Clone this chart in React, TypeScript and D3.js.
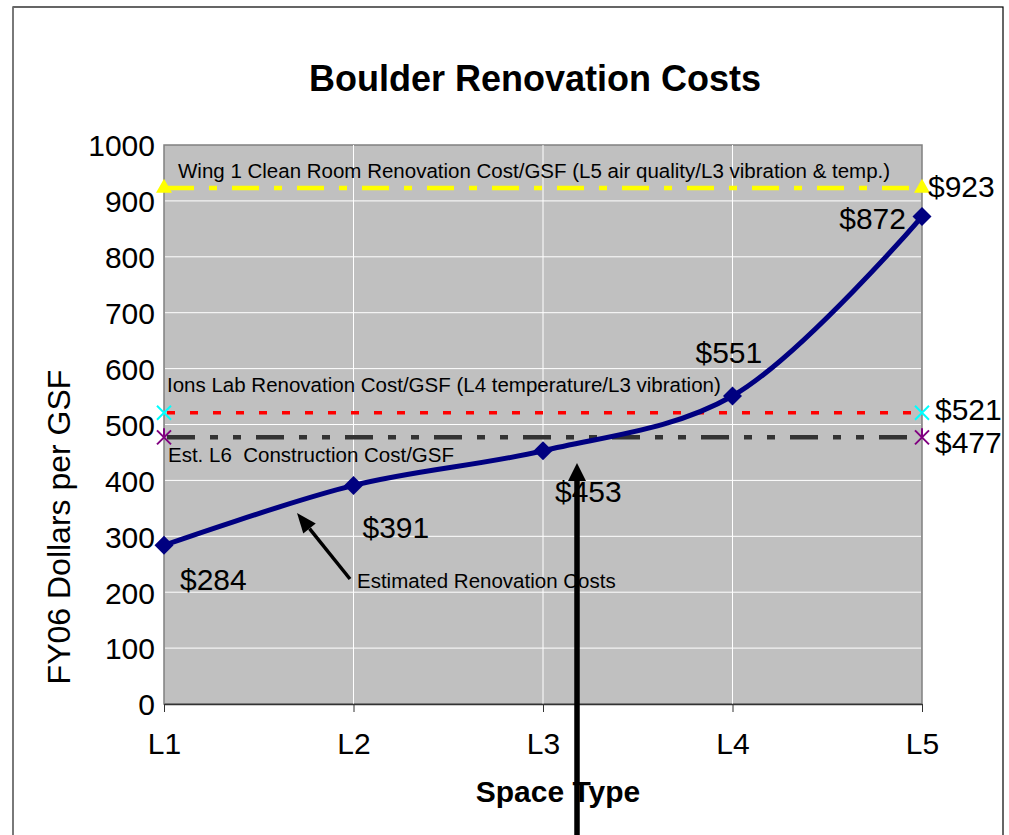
import React, { useEffect, useRef } from 'react'
import * as d3 from 'd3'

const categories = ['L1', 'L2', 'L3', 'L4', 'L5']
const renovationCosts = [284, 391, 453, 551, 872]
const cleanRoomCost = 923
const ionsLabCost = 521
const l6ConstructionCost = 477
const yTicks = [0, 100, 200, 300, 400, 500, 600, 700, 800, 900, 1000]

const W = 1009
const H = 835
const margin = { top: 145, right: 87, bottom: 131, left: 164 }
const font = 'Arial, "Liberation Sans", sans-serif'

export default function App() {
  const ref = useRef<SVGSVGElement>(null)

  useEffect(() => {
    const svg = d3.select(ref.current)
    svg.selectAll('*').remove()

    const x = d3.scalePoint().domain(categories).range([margin.left, W - margin.right])
    const y = d3.scaleLinear().domain([0, 1000]).range([H - margin.bottom, margin.top])
    const x0 = margin.left
    const x1 = W - margin.right

    // outer frame
    svg.append('rect').attr('x', 13).attr('y', 7).attr('width', 990).attr('height', 840)
      .attr('fill', 'white').attr('stroke', 'black').attr('stroke-width', 1.2)
    svg.append('line').attr('x1', 13).attr('x2', 13).attr('y1', 7).attr('y2', H)
      .attr('stroke', '#808080').attr('stroke-width', 1.5)

    // plot background
    svg.append('rect').attr('x', x0).attr('y', y(1000)).attr('width', x1 - x0).attr('height', y(0) - y(1000))
      .attr('fill', '#c0c0c0').attr('stroke', '#808080').attr('stroke-width', 1.5)

    // gridlines
    svg.append('g').selectAll('line').data(yTicks.slice(1, -1)).join('line')
      .attr('x1', x0 + 1).attr('x2', x1 - 1).attr('y1', d => y(d)).attr('y2', d => y(d))
      .attr('stroke', 'white').attr('stroke-width', 1)
    svg.append('g').selectAll('line').data(categories.slice(1, -1)).join('line')
      .attr('x1', d => x(d)!).attr('x2', d => x(d)!).attr('y1', y(1000)).attr('y2', y(0))
      .attr('stroke', 'white').attr('stroke-width', 1)

    // x axis
    const xAxis = d3.axisBottom(x).tickSize(8).tickSizeOuter(0).tickPadding(21)
    const gx = svg.append('g').attr('transform', `translate(0,${y(0)})`).call(xAxis)
    gx.select('.domain').attr('stroke', '#333').attr('stroke-width', 1.5)
    gx.selectAll('.tick line').attr('stroke', '#333')
    gx.selectAll('.tick text').attr('font-family', font).attr('font-size', 30).attr('fill', 'black')

    // y axis
    const yAxis = d3.axisLeft(y).tickValues(yTicks).tickFormat(d3.format('d')).tickSize(0).tickPadding(9)
    const gy = svg.append('g').attr('transform', `translate(${x0},0)`).call(yAxis)
    gy.select('.domain').remove()
    gy.selectAll('.tick text').attr('font-family', font).attr('font-size', 30).attr('fill', 'black').attr('dy', '0.36em')

    // reference lines
    const refs = [
      { v: cleanRoomCost, color: '#ffff00', dash: '27,15,8,15', width: 4.5 },
      { v: ionsLabCost, color: '#ff0000', dash: '8,15', width: 3.5 },
      { v: l6ConstructionCost, color: '#333333', dash: '28,15,8,15,8,15', width: 4.5 }
    ]
    refs.forEach(r => {
      svg.append('line').attr('x1', x0 + 3).attr('x2', x1 - 4).attr('y1', y(r.v)).attr('y2', y(r.v))
        .attr('stroke', r.color).attr('stroke-width', r.width).attr('stroke-dasharray', r.dash)
    })

    // markers on ref lines
    const ends = [categories[0], categories[categories.length - 1]]
    ends.forEach(c => {
      const cx = x(c)!
      svg.append('path').attr('d', d3.symbol(d3.symbolTriangle, 110)())
        .attr('transform', `translate(${cx},${y(cleanRoomCost)})`).attr('fill', '#ffff00')
      const cy = y(ionsLabCost)
      svg.append('path').attr('d', `M${cx - 7},${cy - 7}L${cx + 7},${cy + 7}M${cx - 7},${cy + 7}L${cx + 7},${cy - 7}`)
        .attr('stroke', '#00ffff').attr('stroke-width', 2)
      const py = y(l6ConstructionCost)
      svg.append('path').attr('d', `M${cx - 7},${py - 7}L${cx + 7},${py + 7}M${cx - 7},${py + 7}L${cx + 7},${py - 7}M${cx},${py - 9}L${cx},${py}`)
        .attr('stroke', '#800080').attr('stroke-width', 2)
    })

    // main series
    const pts = categories.map((c, i) => [x(c)!, y(renovationCosts[i])] as [number, number])
    svg.append('path').attr('d', d3.line().curve(d3.curveCatmullRom.alpha(0.5))(pts))
      .attr('fill', 'none').attr('stroke', '#000080').attr('stroke-width', 5)
    svg.append('g').selectAll('path').data(pts).join('path')
      .attr('d', d3.symbol(d3.symbolSquare, 180)())
      .attr('transform', d => `translate(${d[0]},${d[1]}) rotate(45)`).attr('fill', '#000080')

    // value labels
    const valueLabels = [
      { t: '$284', x: x('L1')! + 16, y: y(284) + 45, a: 'start' },
      { t: '$391', x: x('L2')! + 9, y: y(391) + 53, a: 'start' },
      { t: '$453', x: x('L3')! + 12, y: y(453) + 51, a: 'start' },
      { t: '$551', x: x('L4')! - 37, y: y(551) - 33, a: 'start' },
      { t: '$872', x: x('L5')! - 16, y: y(872) + 12, a: 'end' },
      { t: '$923', x: x('L5')! + 6, y: y(cleanRoomCost) + 9, a: 'start' },
      { t: '$521', x: x('L5')! + 13, y: y(ionsLabCost) + 7, a: 'start' },
      { t: '$477', x: x('L5')! + 13, y: y(l6ConstructionCost) + 16, a: 'start' }
    ]
    svg.append('g').selectAll('text').data(valueLabels).join('text')
      .attr('x', d => d.x).attr('y', d => d.y).attr('text-anchor', d => d.a)
      .attr('font-family', font).attr('font-size', 30).text(d => d.t)

    // annotations
    const notes = [
      { t: 'Wing 1 Clean Room Renovation Cost/GSF (L5 air quality/L3 vibration & temp.)', x: 178, y: 178 },
      { t: 'Ions Lab Renovation Cost/GSF (L4 temperature/L3 vibration)', x: 167, y: 392 },
      { t: 'Est. L6  Construction Cost/GSF', x: 168, y: 462 },
      { t: 'Estimated Renovation Costs', x: 357, y: 588 }
    ]
    svg.append('g').selectAll('text').data(notes).join('text')
      .attr('x', d => d.x).attr('y', d => d.y).attr('font-family', font).attr('font-size', 20.5)
      .attr('xml:space', 'preserve').style('white-space', 'pre').text(d => d.t)

    // arrows
    const arrow = (xa: number, ya: number, xb: number, yb: number, w: number, head: number, half: number) => {
      const ang = Math.atan2(yb - ya, xb - xa)
      const bx = xb - Math.cos(ang) * head
      const by = yb - Math.sin(ang) * head
      svg.append('line').attr('x1', xa).attr('y1', ya).attr('x2', bx).attr('y2', by)
        .attr('stroke', 'black').attr('stroke-width', w)
      const px = -Math.sin(ang) * half
      const py = Math.cos(ang) * half
      svg.append('path').attr('d', `M${xb},${yb}L${bx + px},${by + py}L${bx - px},${by - py}Z`).attr('fill', 'black')
    }
    arrow(350, 579, 297, 513, 3.5, 20, 8)
    arrow(577, 835, 577, 463, 5.5, 18, 9)

    // titles
    svg.append('text').attr('x', 535).attr('y', 91).attr('text-anchor', 'middle')
      .attr('font-family', font).attr('font-weight', 'bold').attr('font-size', 36).text('Boulder Renovation Costs')
    svg.append('text').attr('x', 558).attr('y', 802).attr('text-anchor', 'middle')
      .attr('font-family', font).attr('font-weight', 'bold').attr('font-size', 30).text('Space Type')
    svg.append('text').attr('transform', 'translate(70,527) rotate(-90)').attr('text-anchor', 'middle')
      .attr('font-family', font).attr('font-size', 32).text('FY06 Dollars per GSF')
  }, [])

  return <svg ref={ref} width={W} height={H} viewBox={`0 0 ${W} ${H}`} style={{ position: 'absolute', left: 0, top: 0 }} />
}
